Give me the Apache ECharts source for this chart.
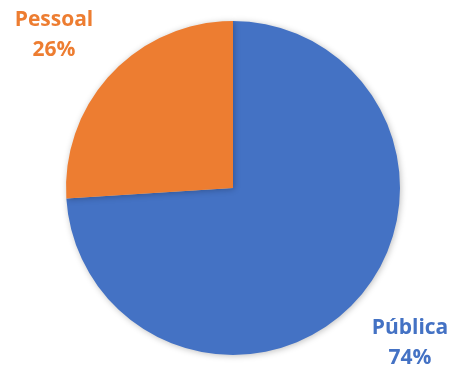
<!DOCTYPE html>
<html>
<head>
<meta charset="utf-8">
<script src="https://cdn.jsdelivr.net/npm/echarts@6/dist/echarts.min.js"></script>
<style>
  html, body { margin: 0; padding: 0; background: #fff; }
  #main { width: 450px; height: 370px; }
</style>
</head>
<body>
<div id="main"></div>
<script>
var categories = ['Pública', 'Pessoal'];
var values = [74, 26];
var colors = ['#4472C4', '#ED7D31'];

var myChart = echarts.init(document.getElementById('main'));

// posições dos rótulos como no Excel
var labelPos = [
    { x: 410, y: 343 },
    { x: 54, y: 35 }
];

var option = {
    animation: false,
    series: [{
        type: 'pie',
        center: [233, 188],
        radius: 167,
        startAngle: 90,
        clockwise: true,
        data: categories.map(function (c, i) {
            return { name: c, value: values[i], itemStyle: { color: colors[i] } };
        }),
        itemStyle: {
            borderWidth: 0,
            shadowBlur: 6,
            shadowColor: 'rgba(0,0,0,0.25)',
            shadowOffsetX: 1,
            shadowOffsetY: 1
        },
        label: {
            show: true,
            position: 'inside',
            overflow: 'none',
            formatter: function (p) { return p.name + '\n' + p.value + '%'; },
            fontFamily: 'Open Sans',
            fontWeight: 'bold',
            fontSize: 21,
            lineHeight: 30,
            align: 'center',
            color: 'inherit'
        },
        labelLine: { show: false },
        labelLayout: function (params) {
            var p = labelPos[params.dataIndex];
            return { x: p.x, y: p.y, align: 'center', verticalAlign: 'middle' };
        },
        emphasis: { disabled: true }
    }]
};

myChart.setOption(option);
</script>
</body>
</html>
